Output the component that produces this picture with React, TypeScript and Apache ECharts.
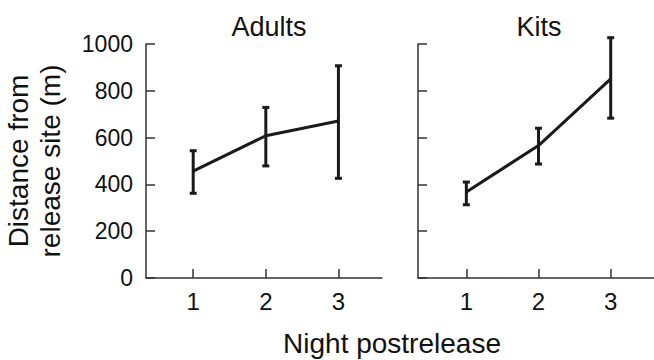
import React, { useEffect, useRef } from "react";
import * as echarts from "echarts";

const nights = [1, 2, 3];
const adultsMean = [457, 608, 671];
const adultsLow = [362, 479, 426];
const adultsHigh = [544, 729, 907];
const kitsMean = [368, 566, 851];
const kitsLow = [313, 487, 683];
const kitsHigh = [410, 640, 1027];
const yTicks = [0, 200, 400, 600, 800, 1000];
const panelTitles = ["Adults", "Kits"];
const yName = "Distance from\nrelease site (m)";
const xName = "Night postrelease";

const FONT = "Liberation Sans, Arial, sans-serif";
const INK = "#1a1a1a";

export default function App() {
  const ref = useRef<HTMLDivElement>(null);
  useEffect(() => {
    if (!ref.current) return;
    const chart = echarts.init(ref.current, null, { renderer: "svg" });

    const errRender = (params: any, api: any) => {
      const x = api.value(0);
      const lo = api.coord([x, api.value(1)]);
      const hi = api.coord([x, api.value(2)]);
      const w = 3.5;
      const style = { stroke: INK, lineWidth: 3 };
      return {
        type: "group",
        children: [
          { type: "line", shape: { x1: lo[0], y1: lo[1], x2: hi[0], y2: hi[1] }, style },
          { type: "line", shape: { x1: lo[0] - w, y1: lo[1], x2: lo[0] + w, y2: lo[1] }, style },
          { type: "line", shape: { x1: hi[0] - w, y1: hi[1], x2: hi[0] + w, y2: hi[1] }, style },
        ],
      };
    };

    const xAxisBase = (min: number, max: number) => ({
      type: "value",
      min,
      max,
      axisLine: { show: true, lineStyle: { color: "#333", width: 1.5 } },
      axisTick: { show: true, inside: true, length: 9, customValues: nights, lineStyle: { color: "#333", width: 1.5 } },
      axisLabel: { show: true, customValues: nights, margin: 11, fontSize: 24, color: "#111", fontFamily: FONT },
      splitLine: { show: false },
    });

    const yAxisBase = (showLabels: boolean) => ({
      type: "value",
      min: yTicks[0],
      max: yTicks[yTicks.length - 1],
      interval: 200,
      axisLine: { show: true, lineStyle: { color: "#333", width: 1.5 } },
      axisTick: { show: true, inside: true, length: 9, lineStyle: { color: "#333", width: 1.5 } },
      axisLabel: { show: showLabels, margin: 13, fontSize: 23, color: "#111", fontFamily: FONT, formatter: (v: number) => String(v) },
      splitLine: { show: false },
    });

    const mk = (arrA: number[], arrB: number[]) => nights.map((n, i) => [n, arrA[i], arrB[i]]);

    const titleStyle = { fontSize: 27, fontWeight: "normal", color: "#111", fontFamily: FONT };

    chart.setOption({
      animation: false,
      backgroundColor: "#ffffff",
      title: [
        { text: panelTitles[0], left: 264, top: 8, textAlign: "center", textStyle: titleStyle },
        { text: panelTitles[1], left: 534, top: 8, textAlign: "center", textStyle: titleStyle },
      ],
      grid: [
        { left: 146, width: 236, top: 44, height: 234 },
        { left: 418, width: 238, top: 44, height: 234 },
      ],
      xAxis: [
        { ...xAxisBase(0.35, 3.6), gridIndex: 0 },
        { ...xAxisBase(0.33, 3.6), gridIndex: 1 },
      ],
      yAxis: [
        {
          ...yAxisBase(true),
          gridIndex: 0,
          name: yName,
          nameLocation: "middle",
          nameGap: 80,
          nameTextStyle: { fontSize: 28, lineHeight: 32, color: "#111", fontFamily: FONT },
        },
        { ...yAxisBase(false), gridIndex: 1 },
      ],
      graphic: [
        {
          type: "text",
          x: 392,
          y: 343,
          style: { text: xName, fontSize: 28, fill: "#111", fontFamily: FONT, align: "center", verticalAlign: "middle" },
        },
      ],
      series: [
        { type: "line", xAxisIndex: 0, yAxisIndex: 0, data: nights.map((n, i) => [n, adultsMean[i]]), showSymbol: false, lineStyle: { color: INK, width: 3 }, itemStyle: { color: INK } },
        { type: "custom", xAxisIndex: 0, yAxisIndex: 0, data: mk(adultsLow, adultsHigh), renderItem: errRender, clip: false },
        { type: "line", xAxisIndex: 1, yAxisIndex: 1, data: nights.map((n, i) => [n, kitsMean[i]]), showSymbol: false, lineStyle: { color: INK, width: 3 }, itemStyle: { color: INK } },
        { type: "custom", xAxisIndex: 1, yAxisIndex: 1, data: mk(kitsLow, kitsHigh), renderItem: errRender, clip: false },
      ],
    });
    return () => chart.dispose();
  }, []);
  return <div ref={ref} style={{ width: 654, height: 360, position: "fixed", left: 0, top: 0 }} />;
}
